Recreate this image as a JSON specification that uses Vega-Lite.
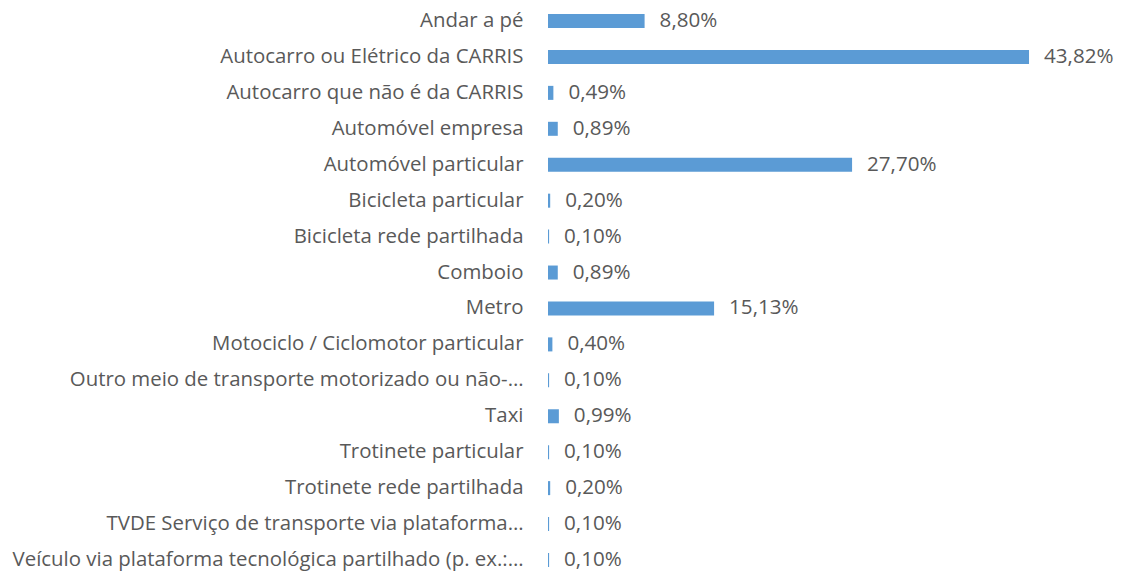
{
  "$schema": "https://vega.github.io/schema/vega-lite/v6.json",
  "autosize": {"type": "none"},
  "width": 483,
  "height": 553,
  "padding": {"left": 548, "top": 14, "right": 93, "bottom": 6},
  "background": "white",
  "config": {
    "view": {"stroke": null},
    "locale": {"number": {"decimal": ",", "thousands": ".", "grouping": [3], "currency": ["", " €"]}}
  },
  "data": {"values": [
    {"meio": "Andar a pé", "share": 0.0880},
    {"meio": "Autocarro ou Elétrico da CARRIS", "share": 0.4382},
    {"meio": "Autocarro que não é da CARRIS", "share": 0.0049},
    {"meio": "Automóvel empresa", "share": 0.0089},
    {"meio": "Automóvel particular", "share": 0.2770},
    {"meio": "Bicicleta particular", "share": 0.0020},
    {"meio": "Bicicleta rede partilhada", "share": 0.0010},
    {"meio": "Comboio", "share": 0.0089},
    {"meio": "Metro", "share": 0.1513},
    {"meio": "Motociclo / Ciclomotor particular", "share": 0.0040},
    {"meio": "Outro meio de transporte motorizado ou não-…", "share": 0.0010},
    {"meio": "Taxi", "share": 0.0099},
    {"meio": "Trotinete particular", "share": 0.0010},
    {"meio": "Trotinete rede partilhada", "share": 0.0020},
    {"meio": "TVDE Serviço de transporte via plataforma…", "share": 0.0010},
    {"meio": "Veículo via plataforma tecnológica partilhado (p. ex.:…", "share": 0.0010}
  ]},
  "encoding": {
    "y": {
      "field": "meio", "type": "nominal", "sort": null,
      "scale": {"paddingInner": 0.61, "paddingOuter": 0},
      "axis": {
        "title": null, "domain": false, "ticks": false, "labelPadding": 25,
        "labelFont": "Open Sans", "labelFontSize": 20.4, "labelColor": "#595959",
        "labelLimit": 1000
      }
    },
    "x": {
      "field": "share", "type": "quantitative",
      "scale": {"domain": [0, 0.44], "nice": false},
      "axis": null
    }
  },
  "layer": [
    {"mark": {"type": "bar", "color": "#5B9BD5"}},
    {
      "mark": {"type": "text", "align": "left", "baseline": "middle", "dx": 15, "font": "Open Sans", "fontSize": 20.6, "color": "#595959"},
      "encoding": {"text": {"field": "share", "type": "quantitative", "format": ".2%"}}
    }
  ]
}
